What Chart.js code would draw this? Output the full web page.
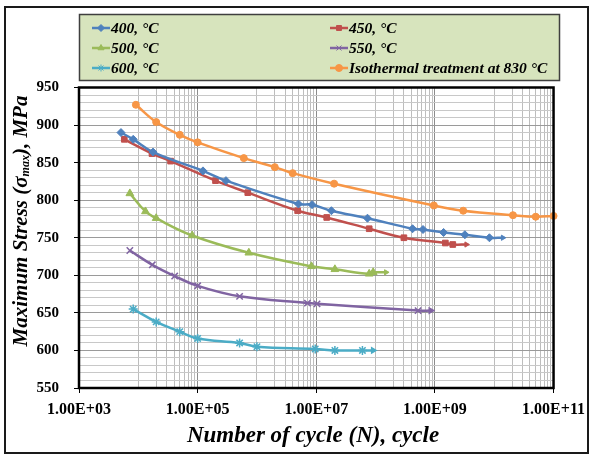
<!DOCTYPE html>
<html>
<head>
<meta charset="utf-8">
<script src="https://cdn.jsdelivr.net/npm/chart.js@4.4.1/dist/chart.umd.min.js"></script>
<style>
  html, body { margin: 0; padding: 0; background: #fff; }
  #wrap { width: 592px; height: 459px; }
</style>
</head>
<body>
<div id="wrap"><canvas id="fatigueChart" width="592" height="459"></canvas></div>
<script>
// series names, colours, marker shapes
const seriesLabels = ['400, °C', '450, °C', '500, °C', '550, °C', '600, °C', 'Isothermal treatment at 830 °C'];
const seriesColors = ['#4f81bd', '#c0504d', '#9bbb59', '#8064a2', '#4bacc6', '#f79646'];
const seriesMarkers = ['rectRot', 'rect', 'triangle', 'crossRot', 'star', 'circle'];
const markerSizes = [4, 4, 4.5, 4.5, 4.5, 3.5];

// values: N (cycles) and max stress (MPa)
const cycles400 = [5.1e3, 8.2e3, 1.77e4, 1.23e5, 3.0e5, 5.0e6, 8.5e6, 1.8e7, 7.3e7, 4.2e8, 6.3e8, 1.4e9, 3.2e9, 8.3e9];
const stress400 = [890, 881, 864, 839, 826, 795, 794, 786, 776, 762, 761, 757, 754, 750];

const cycles450 = [5.8e3, 1.7e4, 3.5e4, 2.0e5, 7.0e5, 4.85e6, 1.5e7, 7.8e7, 3.0e8, 1.5e9, 2.0e9];
const stress450 = [881, 862, 852, 826, 810, 786, 777, 762, 750, 743, 741];

const cycles500 = [7.2e3, 1.32e4, 2.0e4, 8.1e4, 7.3e5, 8.3e6, 2.06e7, 7.8e7, 9.1e7];
const stress500 = [809, 785, 776, 753, 730, 712, 708, 702, 704];

const cycles550 = [7.2e3, 1.72e4, 4.1e4, 1.0e5, 5.1e5, 7.1e6, 1.03e7, 5.2e8];
const stress550 = [733, 714, 699, 686, 672, 663, 662, 653];

const cycles600 = [8.2e3, 2.0e4, 5.0e4, 1.0e5, 5.1e5, 1.0e6, 9.6e6, 2.06e7, 6.0e7];
const stress600 = [655, 638, 625, 616, 610, 605, 602, 600, 600];

const cyclesIso = [9.1e3, 2.0e4, 5.0e4, 1.0e5, 6.0e5, 2.0e6, 4.0e6, 2.0e7, 9.6e8, 3.0e9, 2.07e10, 5.0e10, 1.0e11];
const stressIso = [927, 904, 887, 877, 856, 844, 836, 822, 793, 786, 780, 778, 779];

// where the little arrow at the end of each line points to (N)
const arrowTips = [1.4e10, 3.4e9, 1.5e8, 8.5e8, 9.1e7, null];

// axis ticks
const xTickValues = [1e3, 1e5, 1e7, 1e9, 1e11];
const xTickLabels = ['1.00E+03', '1.00E+05', '1.00E+07', '1.00E+09', '1.00E+11'];
const yMin = 550, yMax = 950, yStep = 10, yLabelStep = 50;

const allCycles = [cycles400, cycles450, cycles500, cycles550, cycles600, cyclesIso];
const allStress = [stress400, stress450, stress500, stress550, stress600, stressIso];

const FONT = "'Liberation Serif', 'Times New Roman', serif";

// excel-like minor grid: 1..9 x 10^even between the labelled decades
const xGridValues = [1e3];
for (let e = 4; e <= 10; e += 2) {
    for (let j = 1; j <= 9; j++) xGridValues.push(j * Math.pow(10, e));
    xGridValues.push(Math.pow(10, e + 1));
}

const datasets = allCycles.map((cyc, s) => {
    const pts = cyc.map((n, i) => ({ x: n, y: allStress[s][i] }));
    const hasArrow = arrowTips[s] !== null;
    if (hasArrow) pts.push({ x: arrowTips[s], y: allStress[s][allStress[s].length - 1] });
    const last = pts.length - 1;
    const isArrow = (ctx) => hasArrow && ctx.dataIndex === last;
    return {
        label: seriesLabels[s],
        data: pts,
        borderColor: seriesColors[s],
        backgroundColor: seriesColors[s],
        borderWidth: 2.5,
        tension: 0.4,
        clip: false,
        pointStyle: (ctx) => isArrow(ctx) ? 'triangle' : seriesMarkers[s],
        rotation: (ctx) => isArrow(ctx) ? 90 : 0,
        pointRadius: (ctx) => isArrow(ctx) ? 3 : markerSizes[s],
        pointBorderWidth: (ctx) => (seriesMarkers[s] === 'crossRot' || seriesMarkers[s] === 'star') ? 1.5 : 1,
        pointHoverRadius: 5
    };
});

const chartDecor = {
    id: 'chartDecor',
    beforeDraw(chart) {
        const ctx = chart.ctx;
        ctx.save();
        ctx.fillStyle = '#fff';
        ctx.fillRect(0, 0, chart.width, chart.height);
        ctx.restore();
    },
    afterDraw(chart) {
        const ctx = chart.ctx;
        const area = chart.chartArea;
        ctx.save();

        // plot frame
        ctx.strokeStyle = '#000';
        ctx.lineWidth = 2.5;
        ctx.strokeRect(area.left, area.top, area.right - area.left, area.bottom - area.top);

        // outer border
        ctx.lineWidth = 2;
        ctx.strokeStyle = '#1a1a1a';
        ctx.strokeRect(5, 7, 583, 446);

        // y title with subscript
        ctx.fillStyle = '#000';
        ctx.textBaseline = 'middle';
        const bigFont = 'italic bold 21px ' + FONT;
        const subFont = 'italic bold 12px ' + FONT;
        const parts = [
            ['Maximum Stress (', bigFont, 0],
            ['σ', bigFont, 0],
            ['max', subFont, 4],
            ['), MPa', bigFont, 0]
        ];
        let total = 0;
        parts.forEach(p => { ctx.font = p[1]; total += ctx.measureText(p[0]).width; });
        ctx.translate(22, 221);
        ctx.rotate(-Math.PI / 2);
        let cx = -total / 2;
        ctx.textAlign = 'left';
        parts.forEach(p => {
            ctx.font = p[1];
            ctx.fillText(p[0], cx, p[2]);
            cx += ctx.measureText(p[0]).width;
        });
        ctx.setTransform(1, 0, 0, 1, 0, 0);

        // x title
        ctx.font = 'italic bold 23px ' + FONT;
        ctx.textAlign = 'center';
        ctx.fillText('Number of cycle (N), cycle', 313, 436);

        // legend box
        ctx.fillStyle = '#d7e4bd';
        ctx.fillRect(79.5, 14.5, 480, 66);
        ctx.strokeStyle = '#3f3f3f';
        ctx.lineWidth = 1.5;
        ctx.strokeRect(79.5, 14.5, 480, 66);

        const colX = [92, 330];
        const rowY = [28, 48, 68];
        ctx.font = 'italic bold 15.5px ' + FONT;
        ctx.textAlign = 'left';
        chart.data.datasets.forEach((ds, i) => {
            const x0 = colX[i % 2];
            const y0 = rowY[Math.floor(i / 2)];
            ctx.strokeStyle = ds.borderColor;
            ctx.lineWidth = 2.5;
            ctx.beginPath();
            ctx.moveTo(x0, y0);
            ctx.lineTo(x0 + 18, y0);
            ctx.stroke();
            ctx.fillStyle = ds.backgroundColor;
            ctx.lineWidth = 1;
            Chart.helpers.drawPoint(ctx, {
                pointStyle: seriesMarkers[i],
                rotation: 0,
                radius: 3.5,
                borderWidth: 1
            }, x0 + 9, y0);
            ctx.fillStyle = '#000';
            ctx.fillText(ds.label, x0 + 19, y0 + 1);
        });

        ctx.restore();
    }
};

new Chart(document.getElementById('fatigueChart'), {
    type: 'line',
    data: { datasets },
    plugins: [chartDecor],
    options: {
        responsive: false,
        animation: false,
        devicePixelRatio: 1,
        layout: { padding: { top: 87.5, right: 37, left: 0, bottom: 0 } },
        plugins: {
            legend: { display: false },
            tooltip: { enabled: true }
        },
        scales: {
            x: {
                type: 'logarithmic',
                min: 1e3,
                max: 1e11,
                afterFit(scale) { scale.height = 71; },
                afterBuildTicks(scale) {
                    scale.ticks = xGridValues.map(v => ({ value: v }));
                },
                border: { display: false },
                grid: {
                    color(ctx) {
                        const v = ctx.tick && ctx.tick.value;
                        if (xTickValues.includes(v)) return '#8c8c8c';
                        return '#bdbdbd';
                    },
                    tickColor(ctx) {
                        const v = ctx.tick && ctx.tick.value;
                        return xTickValues.includes(v) ? '#000' : 'rgba(0,0,0,0)';
                    },
                    tickLength: 5,
                    lineWidth: 1
                },
                ticks: {
                    autoSkip: false,
                    maxRotation: 0,
                    padding: 7,
                    color: '#000',
                    font: { family: FONT, size: 16, weight: 'bold' },
                    callback(value) {
                        const k = xTickValues.indexOf(value);
                        return k >= 0 ? xTickLabels[k] : '';
                    }
                }
            },
            y: {
                min: yMin,
                max: yMax,
                afterFit(scale) { scale.width = 79; },
                border: { display: false },
                grid: {
                    color(ctx) {
                        const v = ctx.tick && ctx.tick.value;
                        return v % yLabelStep === 0 ? '#9a9a9a' : '#c8c8c8';
                    },
                    tickColor(ctx) {
                        const v = ctx.tick && ctx.tick.value;
                        return v % yLabelStep === 0 ? '#000' : 'rgba(0,0,0,0)';
                    },
                    tickLength: 5,
                    lineWidth: 1
                },
                ticks: {
                    stepSize: yStep,
                    autoSkip: false,
                    padding: 15,
                    color: '#000',
                    font: { family: FONT, size: 15, weight: 'bold' },
                    callback(value) {
                        return value % yLabelStep === 0 ? String(value) : '';
                    }
                }
            }
        }
    }
});
</script>
</body>
</html>
